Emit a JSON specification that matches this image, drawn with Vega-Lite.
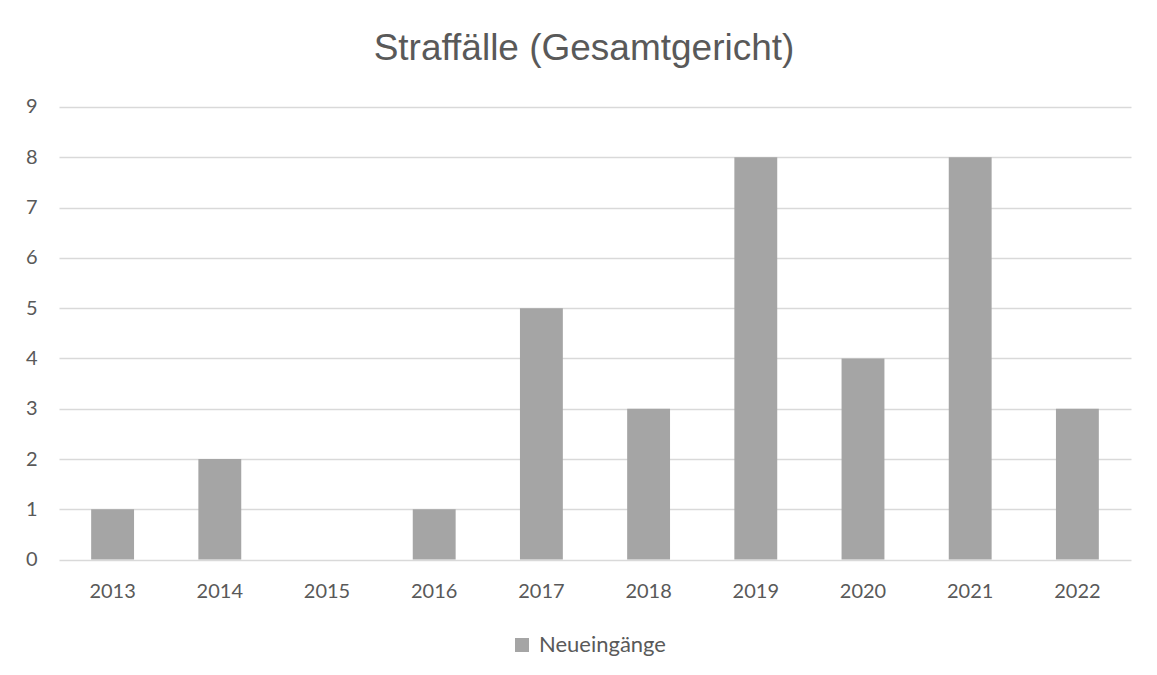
{
  "$schema": "https://vega.github.io/schema/vega-lite/v6.json",
  "autosize": {"type": "none"},
  "width": 1072,
  "height": 452.6,
  "padding": {"left": 59, "top": 107, "right": 26, "bottom": 115},
  "background": "white",
  "title": {
    "text": "Straffälle (Gesamtgericht)",
    "font": "Liberation Sans",
    "fontSize": 37,
    "fontWeight": "normal",
    "color": "#595959",
    "anchor": "middle",
    "frame": "group",
    "baseline": "alphabetic",
    "offset": 0,
    "dx": -11
  },
  "data": {
    "values": [
      {"jahr": "2013", "wert": 1, "serie": "Neueingänge"},
      {"jahr": "2014", "wert": 2, "serie": "Neueingänge"},
      {"jahr": "2015", "wert": 0, "serie": "Neueingänge"},
      {"jahr": "2016", "wert": 1, "serie": "Neueingänge"},
      {"jahr": "2017", "wert": 5, "serie": "Neueingänge"},
      {"jahr": "2018", "wert": 3, "serie": "Neueingänge"},
      {"jahr": "2019", "wert": 8, "serie": "Neueingänge"},
      {"jahr": "2020", "wert": 4, "serie": "Neueingänge"},
      {"jahr": "2021", "wert": 8, "serie": "Neueingänge"},
      {"jahr": "2022", "wert": 3, "serie": "Neueingänge"}
    ]
  },
  "mark": {"type": "bar"},
  "encoding": {
    "x": {
      "field": "jahr",
      "type": "nominal",
      "sort": null,
      "scale": {"paddingInner": 0.6, "paddingOuter": 0.3},
      "axis": {
        "title": null,
        "labelAngle": 0,
        "ticks": false,
        "domain": false,
        "labelFont": "Lato",
        "labelFontSize": 20,
        "labelColor": "#595959",
        "labelPadding": 22
      }
    },
    "y": {
      "field": "wert",
      "type": "quantitative",
      "scale": {"domain": [0, 9], "nice": false},
      "axis": {
        "title": null,
        "values": [0, 1, 2, 3, 4, 5, 6, 7, 8, 9],
        "ticks": false,
        "domain": false,
        "grid": true,
        "gridColor": "#D9D9D9",
        "gridWidth": 1.3,
        "labelFont": "Lato",
        "labelFontSize": 20,
        "labelColor": "#595959",
        "labelPadding": 22
      }
    },
    "color": {
      "field": "serie",
      "type": "nominal",
      "scale": {"range": ["#A5A5A5"]},
      "legend": {
        "title": null,
        "orient": "none",
        "legendX": 452,
        "legendY": 527,
        "symbolType": "square",
        "symbolSize": 196,
        "symbolStrokeWidth": 0,
        "labelFont": "Lato",
        "labelFontSize": 22,
        "labelColor": "#595959",
        "labelOffset": 6
      }
    }
  },
  "config": {
    "view": {"stroke": null}
  }
}
